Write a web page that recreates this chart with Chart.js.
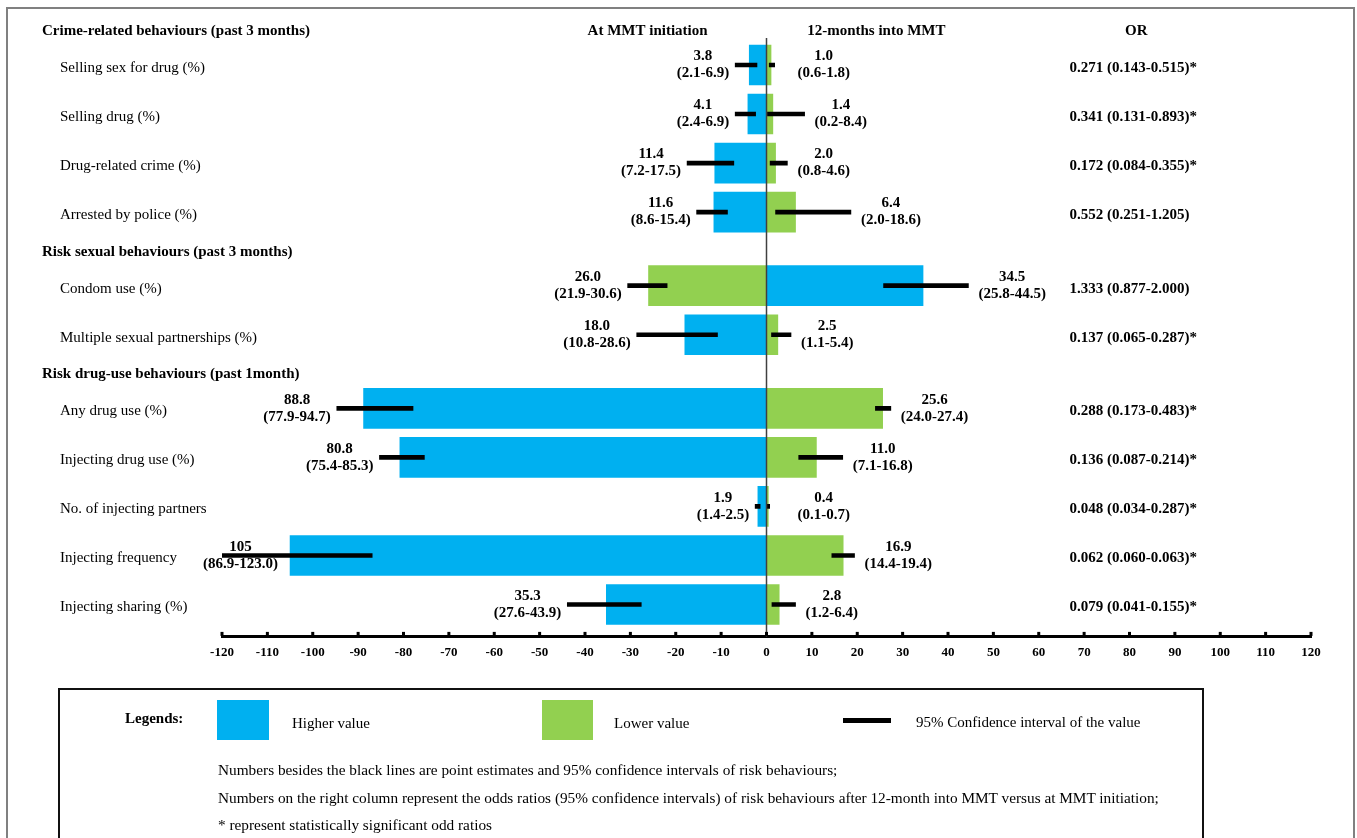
<!DOCTYPE html>
<html>
<head>
<meta charset="utf-8">
<script src="https://cdn.jsdelivr.net/npm/chart.js@4.4.0/dist/chart.umd.min.js"></script>
<style>
  html, body { margin: 0; padding: 0; background: #fff; }
  body { width: 1357px; height: 838px; position: relative; overflow: hidden;
         font-family: 'Liberation Serif', 'Times New Roman', serif; color: #000; }
  #frame { position: absolute; left: 6px; top: 7px; width: 1349px; height: 900px;
           border: 2px solid #808080; box-sizing: border-box; }
  #chart { position: absolute; left: 0; top: 0; }
  #legendBox { position: absolute; left: 58px; top: 688px; width: 1146px; height: 220px;
               border: 2px solid #111; box-sizing: border-box; }
  .t { position: absolute; white-space: nowrap; line-height: 18px; font-size: 15px; }
  .note { font-size: 15.3px; }
  .sw { position: absolute; }
</style>
</head>
<body>
<div id="frame"></div>
<canvas id="chart" width="1357" height="838"></canvas>
<div id="legendBox"></div>
<div class="t" style="left:125px; top:709px; font-weight:bold;">Legends:</div>
<div class="sw" style="left:217px; top:700px; width:52px; height:40px; background:#00b0f0;"></div>
<div class="t" style="left:292px; top:714px;">Higher value</div>
<div class="sw" style="left:542px; top:700px; width:51px; height:40px; background:#92d050;"></div>
<div class="t" style="left:614px; top:714px;">Lower value</div>
<div class="sw" style="left:843px; top:718px; width:48px; height:5px; background:#000;"></div>
<div class="t" style="left:916px; top:713px;">95% Confidence interval of the value</div>
<div class="t note" style="left:218px; top:761px;">Numbers besides the black lines are point estimates and 95% confidence intervals of risk behaviours;</div>
<div class="t note" style="left:218px; top:789px;">Numbers on the right column represent the odds ratios (95% confidence intervals) of risk behaviours after 12-month into MMT versus at MMT initiation;</div>
<div class="t note" style="left:218px; top:816px;">* represent statistically significant odd ratios</div>

<script>
// Data
const groupTitles = [
    'Crime-related behaviours (past 3 months)',
    'Risk sexual behaviours (past 3 months)',
    'Risk drug-use behaviours (past 1month)'
];
const groupSizes = [4, 2, 5];
const categories = [
    'Selling sex for drug (%)', 'Selling drug (%)', 'Drug-related crime (%)', 'Arrested by police (%)',
    'Condom use (%)', 'Multiple sexual partnerships (%)',
    'Any drug use (%)', 'Injecting drug use (%)', 'No. of injecting partners', 'Injecting frequency', 'Injecting sharing (%)'
];
const initValues = [3.8, 4.1, 11.4, 11.6, 26.0, 18.0, 88.8, 80.8, 1.9, 105, 35.3];
const initLow    = [2.1, 2.4, 7.2, 8.6, 21.9, 10.8, 77.9, 75.4, 1.4, 86.9, 27.6];
const initHigh   = [6.9, 6.9, 17.5, 15.4, 30.6, 28.6, 94.7, 85.3, 2.5, 123.0, 43.9];
const m12Values  = [1.0, 1.4, 2.0, 6.4, 34.5, 2.5, 25.6, 11.0, 0.4, 16.9, 2.8];
const m12Low     = [0.6, 0.2, 0.8, 2.0, 25.8, 1.1, 24.0, 7.1, 0.1, 14.4, 1.2];
const m12High    = [1.8, 8.4, 4.6, 18.6, 44.5, 5.4, 27.4, 16.8, 0.7, 19.4, 6.4];
const oddsRatios = [
    '0.271 (0.143-0.515)*', '0.341 (0.131-0.893)*', '0.172 (0.084-0.355)*', '0.552 (0.251-1.205)',
    '1.333 (0.877-2.000)', '0.137 (0.065-0.287)*',
    '0.288 (0.173-0.483)*', '0.136 (0.087-0.214)*', '0.048 (0.034-0.287)*', '0.062 (0.060-0.063)*', '0.079 (0.041-0.155)*'
];
const xMin = -120, xMax = 120, xStep = 10;

const BLUE = '#00b0f0';
const GREEN = '#92d050';
const SERIF = '"Liberation Serif", "Times New Roman", serif';

// row layout: a header takes one slot, an item takes two
const rowSlot = [];
const headerSlot = [];
let slot = 0;
groupSizes.forEach(function(n) {
    headerSlot.push(slot + 0.5);
    slot += 1;
    for (let i = 0; i < n; i++) {
        rowSlot.push(slot + 1);
        slot += 2;
    }
});

const initColors = initValues.map((v, i) => v >= m12Values[i] ? BLUE : GREEN);
const m12Colors = m12Values.map((v, i) => v > initValues[i] ? BLUE : GREEN);

function fmt(v) {
    return v >= 100 ? v.toFixed(0) : v.toFixed(1);
}

// Draws the zero line, tick marks and all the texts
const annotate = {
    id: 'annotate',
    afterDatasetsDraw(chart) {
        const ctx = chart.ctx;
        const x = chart.scales.x;
        const y = chart.scales.y;
        const area = chart.chartArea;
        const x0 = x.getPixelForValue(0);
        ctx.save();

        ctx.strokeStyle = '#404040';
        ctx.lineWidth = 1.5;
        ctx.beginPath();
        ctx.moveTo(x0, area.top);
        ctx.lineTo(x0, area.bottom);
        ctx.stroke();

        ctx.fillStyle = '#000';
        x.ticks.forEach(function(t) {
            const px = x.getPixelForValue(t.value);
            ctx.fillRect(px - 1.5, area.bottom - 4.5, 3, 4);
        });

        // headers and item labels
        ctx.textBaseline = 'middle';
        ctx.textAlign = 'left';
        ctx.font = 'bold 15px ' + SERIF;
        headerSlot.forEach(function(s, g) {
            ctx.fillText(groupTitles[g], 42, y.getPixelForValue(s) + 3);
        });
        ctx.font = '15px ' + SERIF;
        rowSlot.forEach(function(s, i) {
            ctx.fillText(categories[i], 60, y.getPixelForValue(s) + 3);
        });

        // column headers
        const hy = y.getPixelForValue(headerSlot[0]) + 3;
        ctx.font = 'bold 15px ' + SERIF;
        ctx.textAlign = 'center';
        ctx.fillText('At MMT initiation', x.getPixelForValue(-26.2), hy);
        ctx.fillText('12-months into MMT', x.getPixelForValue(24.2), hy);
        ctx.fillText('OR', x.getPixelForValue(81.5), hy);

        // OR column
        ctx.textAlign = 'left';
        rowSlot.forEach(function(s, i) {
            ctx.fillText(oddsRatios[i], x.getPixelForValue(66.8), y.getPixelForValue(s) + 3);
        });

        // point estimates with CI
        ctx.textAlign = 'center';
        rowSlot.forEach(function(s, i) {
            const yc = y.getPixelForValue(s);
            let t1 = fmt(initValues[i]);
            let t2 = '(' + initLow[i].toFixed(1) + '-' + initHigh[i].toFixed(1) + ')';
            let w = Math.max(ctx.measureText(t1).width, ctx.measureText(t2).width);
            const right = x.getPixelForValue(-initHigh[i]) - 6;
            let cx = Math.max(right - w / 2, area.left - 19 + w / 2);
            ctx.fillText(t1, cx, yc - 8.5);
            ctx.fillText(t2, cx, yc + 8.5);

            t1 = fmt(m12Values[i]);
            t2 = '(' + m12Low[i].toFixed(1) + '-' + m12High[i].toFixed(1) + ')';
            w = Math.max(ctx.measureText(t1).width, ctx.measureText(t2).width);
            const left = Math.max(x.getPixelForValue(m12High[i]) + 10, x0 + 31);
            cx = left + w / 2;
            ctx.fillText(t1, cx, yc - 8.5);
            ctx.fillText(t2, cx, yc + 8.5);
        });

        ctx.restore();
    }
};

const chart = new Chart(document.getElementById('chart'), {
    type: 'bar',
    data: {
        datasets: [
            {
                label: 'CI at MMT initiation',
                data: rowSlot.map((s, i) => ({ x: [-initHigh[i], -initLow[i]], y: s })),
                backgroundColor: '#000',
                barThickness: 4,
                grouped: false,
                order: 0
            },
            {
                label: 'CI 12-months into MMT',
                data: rowSlot.map((s, i) => ({ x: [m12Low[i], m12High[i]], y: s })),
                backgroundColor: '#000',
                barThickness: 4,
                grouped: false,
                order: 0
            },
            {
                label: 'At MMT initiation',
                data: rowSlot.map((s, i) => ({ x: -initValues[i], y: s })),
                backgroundColor: initColors,
                barThickness: 40,
                grouped: false,
                order: 1
            },
            {
                label: '12-months into MMT',
                data: rowSlot.map((s, i) => ({ x: m12Values[i], y: s })),
                backgroundColor: m12Colors,
                barThickness: 40,
                grouped: false,
                order: 1
            }
        ]
    },
    options: {
        indexAxis: 'y',
        responsive: false,
        animation: false,
        devicePixelRatio: 1,
        layout: {
            padding: { left: 222, right: 46, top: 38, bottom: 170 }
        },
        plugins: {
            legend: { display: false },
            tooltip: { enabled: false }
        },
        scales: {
            x: {
                type: 'linear',
                min: xMin,
                max: xMax,
                grid: { display: false, drawTicks: false },
                border: { display: true, color: '#000', width: 3 },
                ticks: {
                    stepSize: xStep,
                    color: '#000',
                    padding: 8,
                    font: { family: SERIF, size: 13, weight: 'bold' },
                    callback: v => String(v)
                }
            },
            y: {
                type: 'linear',
                display: false,
                reverse: true,
                offset: false,
                min: 0.9,
                max: 25.3
            }
        }
    },
    plugins: [annotate]
});
</script>
</body>
</html>
